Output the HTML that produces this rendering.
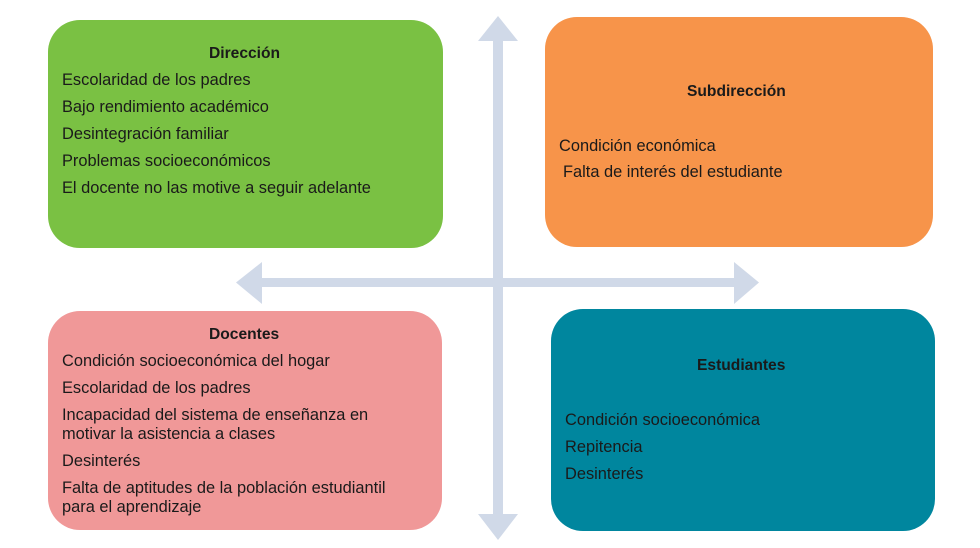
<!DOCTYPE html>
<html><head><meta charset="utf-8"><style>
body{margin:0;width:980px;height:548px;background:#fff;position:relative;overflow:hidden;font-family:"Liberation Sans",sans-serif;color:#1a1a1a}
.b{position:absolute;border-radius:32px}
.t{position:absolute;font-size:16.4px;line-height:20px;white-space:nowrap}
.h{font-weight:bold;font-size:15.6px}
</style></head><body>
<div class="b" style="left:48px;top:20px;width:395px;height:228px;background:#7ac143"></div>
<div class="b" style="left:545px;top:17px;width:388px;height:230px;background:#f7944a"></div>
<div class="b" style="left:48px;top:311px;width:394px;height:219px;background:#f09898"></div>
<div class="b" style="left:551px;top:309px;width:384px;height:222px;background:#00869e"></div>
<svg width="980" height="548" style="position:absolute;left:0;top:0">
<g fill="#d0d9e8">
<rect x="493" y="38" width="10" height="490"/>
<polygon points="498,16 518,41 478,41"/>
<polygon points="498,540 518,514 478,514"/>
<rect x="258" y="278" width="480" height="9"/>
<polygon points="236,282.5 262,262 262,304"/>
<polygon points="759,282.5 734,262 734,304"/>
</g></svg>
<div class="t h" style="left:209px;top:44px">Dirección</div>
<div class="t" style="left:62px;top:70px">Escolaridad de los padres</div>
<div class="t" style="left:62px;top:97px">Bajo rendimiento académico</div>
<div class="t" style="left:62px;top:124px">Desintegración familiar</div>
<div class="t" style="left:62px;top:151px">Problemas socioeconómicos</div>
<div class="t" style="left:62px;top:178px">El docente no las motive a seguir adelante</div>
<div class="t h" style="left:687px;top:82px">Subdirección</div>
<div class="t" style="left:559px;top:136px">Condición económica</div>
<div class="t" style="left:563px;top:162px">Falta de interés del estudiante</div>
<div class="t h" style="left:209px;top:325px">Docentes</div>
<div class="t" style="left:62px;top:351px">Condición socioeconómica del hogar</div>
<div class="t" style="left:62px;top:378px">Escolaridad de los padres</div>
<div class="t" style="left:62px;top:405px">Incapacidad del sistema de enseñanza en</div>
<div class="t" style="left:62px;top:424px">motivar la asistencia a clases</div>
<div class="t" style="left:62px;top:451px">Desinterés</div>
<div class="t" style="left:62px;top:478px">Falta de aptitudes de la población estudiantil</div>
<div class="t" style="left:62px;top:497px">para el aprendizaje</div>
<div class="t h" style="left:697px;top:356px">Estudiantes</div>
<div class="t" style="left:565px;top:410px">Condición socioeconómica</div>
<div class="t" style="left:565px;top:437px">Repitencia</div>
<div class="t" style="left:565px;top:464px">Desinterés</div>
</body></html>
